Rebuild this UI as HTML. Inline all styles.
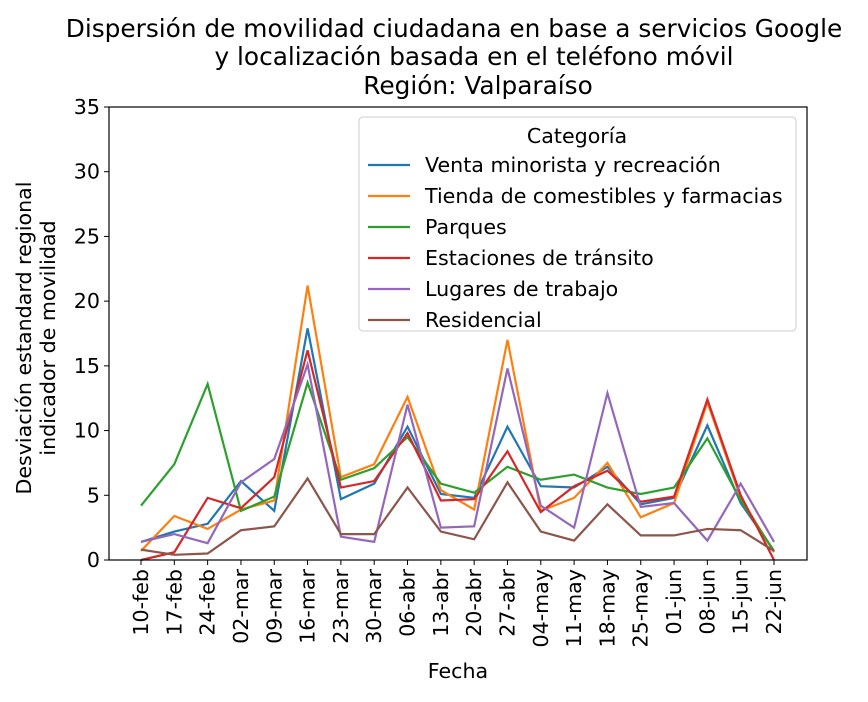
<!DOCTYPE html>
<html><head><meta charset="utf-8"><style>body{margin:0;background:#fff}svg{font-family:"DejaVu Sans","Liberation Sans",sans-serif}</style></head>
<body>
<svg id="chart" width="868" height="697" xmlns="http://www.w3.org/2000/svg">
<text x="454" y="37" font-size="24.8" text-anchor="middle">Dispersión de movilidad ciudadana en base a servicios Google</text>
<text x="474" y="65" font-size="24.8" text-anchor="middle">y localización basada en el teléfono móvil</text>
<text x="478" y="94" font-size="24.8" text-anchor="middle">Región: Valparaíso</text>
<g id="plot"></g>
</svg>
<script>
const categories=["10-feb","17-feb","24-feb","02-mar","09-mar","16-mar","23-mar","30-mar","06-abr","13-abr","20-abr","27-abr","04-may","11-may","18-may","25-may","01-jun","08-jun","15-jun","22-jun"];
const seriesNames=["Venta minorista y recreación","Tienda de comestibles y farmacias","Parques","Estaciones de tránsito","Lugares de trabajo","Residencial"];
const retail=[1.4,2.2,2.8,6.1,3.8,17.9,4.7,5.9,10.3,5.1,4.8,10.3,5.7,5.6,7.2,4.3,4.8,10.4,4.4,0.7];
const grocery=[0.7,3.4,2.4,3.9,4.6,21.2,6.4,7.4,12.6,5.4,3.9,17.0,3.8,4.8,7.5,3.3,4.4,12.2,4.8,0.6];
const parks=[4.2,7.4,13.6,3.8,4.9,13.7,6.2,7.1,9.5,5.9,5.2,7.2,6.2,6.6,5.6,5.1,5.6,9.4,4.6,0.7];
const transit=[0,0.6,4.8,4.0,6.4,16.2,5.6,6.1,9.8,4.6,4.7,8.4,3.7,5.7,6.9,4.5,4.9,12.4,5.0,0];
const workplaces=[1.4,2.0,1.3,6.0,7.8,15.1,1.8,1.4,12.0,2.5,2.6,14.8,4.2,2.5,12.9,4.1,4.4,1.5,5.9,1.4];
const residential=[0.8,0.4,0.5,2.3,2.6,6.3,2.0,2.0,5.6,2.2,1.6,6.0,2.2,1.5,4.3,1.9,1.9,2.4,2.3,0.7];
const yTicks=[0,5,10,15,20,25,30,35];
const colors=["#1f77b4","#ff7f0e","#2ca02c","#d62728","#9467bd","#8c564b"];
const series=[retail,grocery,parks,transit,workplaces,residential];
const NS="http://www.w3.org/2000/svg";
const L=109,R=807,T=107,B=560,FS=20.6;
const x=i=>141+i*(774-141)/(categories.length-1);
const y=v=>B-(v/35)*(B-T);
const g=document.getElementById('plot');
function mk(t,a,txt){const e=document.createElementNS(NS,t);for(const k in a)e.setAttribute(k,a[k]);if(txt!==undefined)e.textContent=txt;g.appendChild(e);return e;}
series.forEach((s,si)=>{
 const p=mk('polyline',{points:s.map((v,i)=>x(i)+','+y(v)).join(' '),fill:'none',stroke:colors[si],'stroke-width':2.2});
 
 
});
const ax=mk('rect',{x:L,y:T,width:R-L,height:B-T,fill:'none',stroke:'#000','stroke-width':1.2});


yTicks.forEach(v=>{
 mk('line',{x1:L-5,x2:L,y1:y(v),y2:y(v),stroke:'#000'});
 const t=mk('text',{x:L-9,y:y(v)+7,'font-size':FS,'text-anchor':'end'},v);
 
 
});
categories.forEach((c,i)=>{
 mk('line',{x1:x(i),x2:x(i),y1:B,y2:B+5,stroke:'#000'});
 const t=mk('text',{x:0,y:0,'font-size':FS,'text-anchor':'end',transform:`translate(${x(i)+7},${B+9}) rotate(-90)`},c);
 
 
});
const xt=mk('text',{x:458,y:678,'font-size':FS,'text-anchor':'middle'},'Fecha');


const yt1=mk('text',{x:0,y:0,'font-size':FS,'text-anchor':'middle',transform:'translate(31,338) rotate(-90)'},'Desviación estandard regional');


const yt2=mk('text',{x:0,y:0,'font-size':FS,'text-anchor':'middle',transform:'translate(55,338) rotate(-90)'},'indicador de movilidad');


const lb=mk('rect',{x:359,y:117,width:437,height:214,rx:4,fill:'#fff','fill-opacity':0.85,stroke:'#ccc'});


const lt=mk('text',{x:577,y:143,'font-size':FS,'text-anchor':'middle'},'Categoría');


seriesNames.forEach((n,i)=>{
 const yy=165+i*31;
 mk('line',{x1:368,x2:410,y1:yy,y2:yy,stroke:colors[i],'stroke-width':2.2});
 const t=mk('text',{x:425,y:yy+7,'font-size':FS},n);
 
 
});
</script>
</body></html>
